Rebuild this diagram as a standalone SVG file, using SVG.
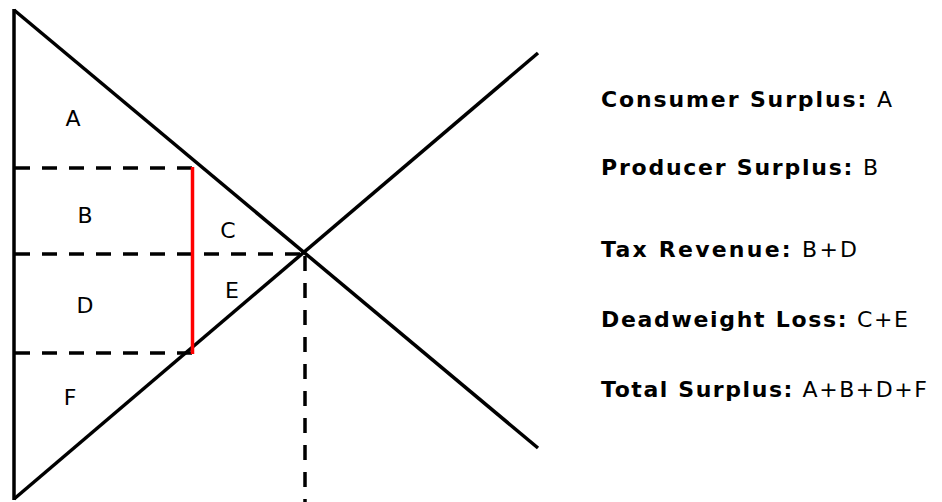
<svg xmlns="http://www.w3.org/2000/svg" width="942" height="502" viewBox="0 0 942 502">
<style>
.ln{stroke:#000;stroke-width:3.5;fill:none;stroke-linecap:butt}
.ds{stroke:#000;stroke-width:3.5;fill:none;stroke-dasharray:15 12}
.red{stroke:#ff0000;stroke-width:3.5;fill:none}
.lab{font-family:"DejaVu Sans","Open Sans",sans-serif;font-size:22px;fill:#000}
.leg{font-family:"DejaVu Sans","Open Sans",sans-serif;font-size:22px;fill:#000}
.b{font-weight:bold}
</style>
<rect width="942" height="502" fill="#fff"/>
<g id="connectors">
<line class="ln" x1="14" y1="9" x2="14" y2="500"/>
<line class="ln" x1="14" y1="10" x2="538" y2="448"/>
<line class="ln" x1="14" y1="499" x2="538" y2="53"/>
<line class="ds" x1="15" y1="168" x2="193" y2="168"/>
<line class="ds" x1="15" y1="254" x2="305" y2="254"/>
<line class="ds" x1="15" y1="353" x2="193" y2="353"/>
<line class="ds" x1="305" y1="256" x2="305" y2="502"/>
<line class="red" x1="192.5" y1="167" x2="192.5" y2="354"/>
</g>
<g id="regions">
<text class="lab" x="73" y="126" text-anchor="middle">A</text>
<text class="lab" x="85" y="223" text-anchor="middle">B</text>
<text class="lab" x="228" y="238" text-anchor="middle">C</text>
<text class="lab" x="85" y="313" text-anchor="middle">D</text>
<text class="lab" x="232" y="298" text-anchor="middle">E</text>
<text class="lab" x="70" y="405" text-anchor="middle">F</text>
</g>
<g id="legend">
<text class="leg" x="601" y="107" textLength="291" lengthAdjust="spacing"><tspan class="b">Consumer Surplus:</tspan> A</text>
<text class="leg" x="601" y="175" textLength="277" lengthAdjust="spacing"><tspan class="b">Producer Surplus:</tspan> B</text>
<text class="leg" x="601" y="257" textLength="256" lengthAdjust="spacing"><tspan class="b">Tax Revenue:</tspan> B+D</text>
<text class="leg" x="601" y="327" textLength="307" lengthAdjust="spacing"><tspan class="b">Deadweight Loss:</tspan> C+E</text>
<text class="leg" x="601" y="397" textLength="326" lengthAdjust="spacing"><tspan class="b">Total Surplus:</tspan> A+B+D+F</text>
</g>
</svg>
